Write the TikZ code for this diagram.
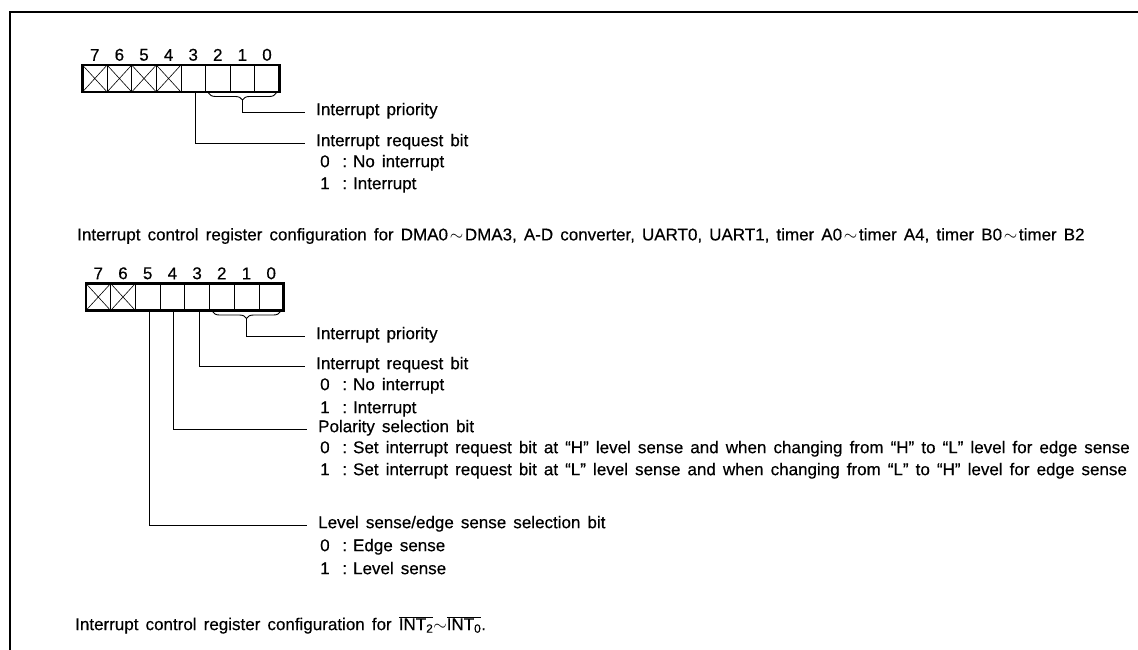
\documentclass[tikz,border=0pt]{standalone}
\usepackage{fontspec}
\setmainfont[WordSpace=1.5,FakeBold=0.4]{Liberation Sans}
\usetikzlibrary{positioning,calc,decorations.pathreplacing}

\tikzset{
  cell/.style={draw,line width=0.6pt,minimum width=24.7pt,minimum height=27pt,inner sep=0pt,outer sep=0pt},
  bitlab/.style={inner sep=0pt,label distance=4pt},
  desc/.style={anchor=west,inner xsep=11pt,inner ysep=0pt,text height=1.5ex,text depth=.3ex},
  val/.style={anchor=west,inner sep=0pt,text height=1.5ex,text depth=.3ex},
  wire/.style={line width=0.9pt},
  xbox/.style={line width=2.8pt},
}
\newcommand{\sel}[2]{#1\hspace{.75em}:\hspace{.35em}#2}
\newcommand{\wtilde}{\hspace{.1em}$\sim$\hspace{.1em}}

\begin{document}
\begin{tikzpicture}[x=1pt,y=-1pt,every node/.style={font=\fontsize{17}{20}\selectfont}]
\useasboundingbox (0,0) rectangle (1138,650);
% frame
\draw[line width=2pt] (1138,12) -- (9.5,12) -- (9.5,650);

% register for DMA, A-D, UART, timers
\foreach \b [count=\i from 0] in {7,6,...,0}
  \node[cell,label={[bitlab]above:\b}] (a\b) at (94.8+\i*24.6,78.5) {};
\foreach \b in {7,6,5,4}
  \draw[line width=0.6pt] (a\b.north west) -- (a\b.south east) (a\b.north east) -- (a\b.south west);
\draw[xbox] (a7.north west) rectangle (a0.south east);
\draw[wire,decorate,decoration={brace,amplitude=7pt}] ($(a0.south east)+(-3,1)$) -- ($(a2.south west)+(3,1)$);
\coordinate (tipa) at ($(a2.south west)!0.5!(a0.south east)+(0,8)$);
\node[desc] (pria) at (305,112) {Interrupt priority};
\node[desc] (reqa) at (305,143) {Interrupt request bit};
\node[val] (reqa0) at (320,164) {\sel{0}{No interrupt}};
\node[val] (reqa1) at (320,186) {\sel{1}{Interrupt}};
\draw[wire] (tipa) |- (pria.west);
\draw[wire] ([xshift=2pt]a3.south) |- (reqa.west);
\node[anchor=west,inner sep=0pt] (capa) at (77,236) {Interrupt control register configuration for DMA0\wtilde DMA3, A-D converter, UART0, UART1, timer A0\wtilde timer A4, timer B0\wtilde timer B2};

% register for INT2~INT0
\foreach \b [count=\i from 0] in {7,6,...,0}
  \node[cell,label={[bitlab]above:\b}] (b\b) at (98.3+\i*24.7,297) {};
\foreach \b in {7,6}
  \draw[line width=0.6pt] (b\b.north west) -- (b\b.south east) (b\b.north east) -- (b\b.south west);
\draw[xbox] (b7.north west) rectangle (b0.south east);
\draw[wire,decorate,decoration={brace,amplitude=7pt}] ($(b0.south east)+(-3,1)$) -- ($(b2.south west)+(3,1)$);
\coordinate (tipb) at ($(b2.south west)!0.5!(b0.south east)+(0,8)$);
\node[desc] (prib) at (305,336) {Interrupt priority};
\node[desc] (reqb) at (305,366) {Interrupt request bit};
\node[val] (reqb0) at (320,387) {\sel{0}{No interrupt}};
\node[val] (reqb1) at (320,410) {\sel{1}{Interrupt}};
\node[desc] (polb) at (307,429) {Polarity selection bit};
\node[val] (polb0) at (320,450) {\sel{0}{Set interrupt request bit at “H” level sense and when changing from “H” to “L” level for edge sense}};
\node[val] (polb1) at (320,472) {\sel{1}{Set interrupt request bit at “L” level sense and when changing from “L” to “H” level for edge sense}};
\node[desc] (lvlb) at (307,525) {Level sense/edge sense selection bit};
\node[val] (lvlb0) at (320,548) {\sel{0}{Edge sense}};
\node[val] (lvlb1) at (320,571) {\sel{1}{Level sense}};
\draw[wire] (tipb) |- (prib.west);
\draw[wire] ([xshift=2pt]b3.south) |- (reqb.west);
\draw[wire] ([xshift=1pt]b4.south) |- (polb.west);
\draw[wire] ([xshift=2pt]b5.south) |- (lvlb.west);
\node[anchor=west,inner sep=0pt] (capb) at (75,625) {Interrupt control register configuration for $\overline{\mbox{INT\textsubscript{2}}}{\sim}\overline{\mbox{INT\textsubscript{0}}}$.};
\end{tikzpicture}
\end{document}
